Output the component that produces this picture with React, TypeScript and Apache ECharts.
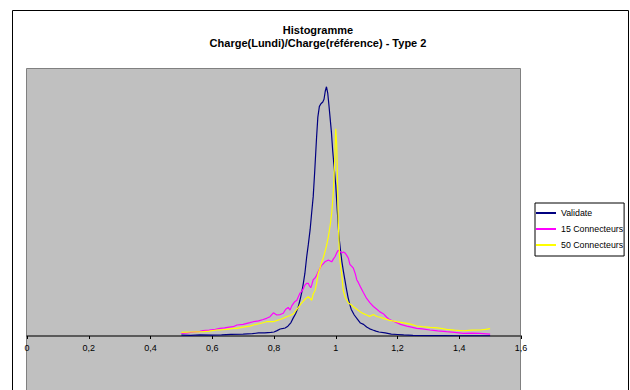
import React, { useEffect, useRef } from "react";
import * as echarts from "echarts";

const titleLines = ["Histogramme", "Charge(Lundi)/Charge(référence) - Type 2"];
const seriesNames = ["Validate", "15 Connecteurs", "50 Connecteurs"];
const seriesColors = ["#000080", "#FF00FF", "#FFFF00"];
const xTicks = [0, 0.2, 0.4, 0.6, 0.8, 1, 1.2, 1.4, 1.6];

const validateX = [0.5, 0.53, 0.56, 0.6, 0.63, 0.66, 0.7, 0.73, 0.75, 0.77, 0.79, 0.8, 0.81, 0.82, 0.83, 0.836, 0.845, 0.855, 0.862, 0.87, 0.878, 0.884, 0.89, 0.895, 0.9, 0.906, 0.911, 0.917, 0.922, 0.927, 0.932, 0.938, 0.942, 0.947, 0.952, 0.958, 0.962, 0.966, 0.97, 0.974, 0.978, 0.982, 0.986, 0.99, 0.995, 1.0, 1.005, 1.01, 1.015, 1.02, 1.025, 1.03, 1.035, 1.04, 1.045, 1.05, 1.06, 1.07, 1.08, 1.09, 1.1, 1.11, 1.12, 1.13, 1.14, 1.16, 1.18, 1.2, 1.22, 1.25, 1.3, 1.35, 1.4, 1.45, 1.5];
const validateY = [1, 0.8, 1.2, 1, 1.3, 1.8, 2.2, 2.6, 3.4, 3.4, 4, 4.5, 6, 7.8, 8.5, 9, 11, 15, 20, 25, 32, 40, 49, 59, 70, 89, 102, 119, 138, 156, 185, 223, 245, 257, 260, 262, 265, 274, 279, 272, 258, 243, 228, 208, 188, 169, 140, 113, 97, 83, 72, 62, 52, 43, 36, 30, 23.5, 19, 14.5, 13, 10, 8, 6.7, 5.5, 4.5, 3.4, 2.2, 1.7, 1.2, 0.6, 0.5, 0.4, 0.3, 0.3, 0.3];

const pinkX = [0.5, 0.52, 0.54, 0.56, 0.57, 0.59, 0.61, 0.625, 0.64, 0.655, 0.668, 0.68, 0.7, 0.722, 0.733, 0.75, 0.765, 0.776, 0.787, 0.798, 0.809, 0.82, 0.83, 0.838, 0.846, 0.852, 0.858, 0.866, 0.874, 0.884, 0.89, 0.895, 0.9, 0.906, 0.911, 0.915, 0.919, 0.923, 0.927, 0.933, 0.938, 0.943, 0.949, 0.954, 0.96, 0.965, 0.97, 0.976, 0.982, 0.987, 0.992, 0.998, 1.003, 1.008, 1.013, 1.019, 1.025, 1.03, 1.036, 1.041, 1.046, 1.052, 1.057, 1.063, 1.068, 1.073, 1.08, 1.089, 1.1, 1.111, 1.122, 1.133, 1.143, 1.154, 1.165, 1.176, 1.187, 1.197, 1.21, 1.23, 1.245, 1.262, 1.28, 1.305, 1.33, 1.359, 1.385, 1.413, 1.44, 1.467, 1.5];
const pinkY = [3, 3.5, 4.5, 5.2, 6, 6.5, 7.5, 8.6, 9, 10, 10.4, 12.3, 13, 14.9, 16, 17, 18.5, 19.8, 21.6, 26, 23.5, 24, 25.4, 30, 32, 29, 34, 38, 40, 48, 50, 53, 57, 59, 59, 56, 54, 58, 63, 65, 68, 72, 76, 79, 81, 83, 84, 85, 84, 83, 86, 89, 93, 96, 95, 93, 94, 93, 90, 87, 80, 78, 76, 70, 63, 60, 55, 49, 42, 37, 33, 30, 27, 25, 21, 18, 16.5, 15, 13, 11, 10, 8.6, 8, 6.7, 5.8, 4.8, 4, 3, 3.2, 3, 2.2];

const yellowX = [0.5, 0.53, 0.571, 0.59, 0.614, 0.625, 0.645, 0.668, 0.679, 0.7, 0.722, 0.733, 0.755, 0.776, 0.787, 0.798, 0.81, 0.82, 0.83, 0.841, 0.852, 0.862, 0.87, 0.879, 0.887, 0.895, 0.903, 0.911, 0.917, 0.922, 0.927, 0.933, 0.938, 0.943, 0.949, 0.955, 0.96, 0.965, 0.97, 0.976, 0.982, 0.987, 0.991, 0.994, 0.997, 1.0, 1.003, 1.005, 1.008, 1.012, 1.015, 1.019, 1.024, 1.03, 1.036, 1.041, 1.05, 1.057, 1.068, 1.079, 1.09, 1.1, 1.11, 1.122, 1.133, 1.143, 1.154, 1.175, 1.197, 1.215, 1.23, 1.245, 1.262, 1.28, 1.305, 1.33, 1.359, 1.385, 1.413, 1.44, 1.467, 1.485, 1.5];
const yellowY = [4.1, 4.5, 4.8, 5.5, 6.7, 6.7, 7.5, 8.6, 8.6, 10, 11, 12.3, 14, 16, 16, 16, 17.5, 18.5, 19.8, 21.6, 23, 24.6, 28, 32, 36, 39, 42, 44, 42, 40, 47, 51, 59, 70, 76, 83, 88, 94, 101, 111, 124, 138, 155, 175, 200, 232, 215, 186, 130, 91, 80, 70.5, 51.5, 43.7, 40, 37, 35, 32.8, 30, 27.2, 25, 23.5, 22, 24, 21.8, 21, 19.8, 17.5, 16, 15, 14.2, 13, 11.2, 10.5, 9.7, 9, 7.5, 6.5, 5.9, 6.5, 6.7, 7.5, 8.2];

const pairs = (xs: number[], ys: number[]) => xs.map((x, i) => [x, ys[i]]);

export default function App() {
  const ref = useRef<HTMLDivElement>(null);
  useEffect(() => {
    if (!ref.current) return;
    const chart = echarts.init(ref.current, undefined, { renderer: "svg" });
    const font = "'Liberation Sans', Arial, sans-serif";
    const datas = [pairs(validateX, validateY), pairs(pinkX, pinkY), pairs(yellowX, yellowY)];
    chart.setOption({
      animation: false,
      backgroundColor: "#ffffff",
      title: {
        text: titleLines.join("\n"),
        left: 318,
        top: 23,
        padding: 0,
        textAlign: "center",
        textStyle: { fontFamily: font, fontSize: 11, fontWeight: "bold", color: "#000", lineHeight: 13 },
      },
      graphic: [
        {
          type: "rect",
          shape: { x: 26.5, y: 68.5, width: 494, height: 330 },
          style: { fill: "#c0c0c0", stroke: "#808080", lineWidth: 1 },
          silent: true,
          z: -10,
        },
        {
          type: "rect",
          shape: { x: 12.5, y: 10.5, width: 616, height: 400 },
          style: { fill: "none", stroke: "#000", lineWidth: 1 },
          silent: true,
          z: 100,
        },
      ],
      legend: {
        orient: "vertical",
        left: 535,
        top: 203,
        padding: [4, 1, 5, 1],
        itemGap: 4,
        itemWidth: 20,
        itemHeight: 2,
        itemStyle: { borderWidth: 0 },
        icon: "rect",
        itemTextGap: 3,
        borderColor: "#000",
        borderWidth: 1,
        backgroundColor: "#fff",
        textStyle: { fontFamily: font, fontSize: 8.8, color: "#000", lineHeight: 12 },
        data: seriesNames,
      },
      grid: {
        left: 27,
        right: 109,
        top: 68,
        bottom: 54,
        show: false,
        containLabel: false,
        outerBoundsMode: "none",
      },
      xAxis: {
        type: "value",
        min: xTicks[0],
        max: xTicks[xTicks.length - 1],
        interval: 0.2,
        axisLine: { onZero: false, lineStyle: { color: "#5a5a5a", width: 2 } },
        axisTick: { show: true, length: 3, lineStyle: { color: "#000" } },
        splitLine: { show: false },
        axisLabel: {
          fontFamily: font,
          fontSize: 9,
          color: "#000",
          margin: 7,
          formatter: (v: number) => {
            const t = xTicks.find((k) => Math.abs(k - v) < 1e-6);
            return t === undefined ? "" : String(t).replace(".", ",");
          },
        },
      },
      yAxis: {
        type: "value",
        min: 0,
        max: 300,
        show: false,
        splitLine: { show: false },
      },
      series: seriesNames.map((name, i) => ({
        name,
        type: "line",
        data: datas[i],
        showSymbol: false,
        symbol: "none",
        color: seriesColors[i],
        lineStyle: { color: seriesColors[i], width: 1.2 },
        z: 2 + i,
      })),
    });
    return () => chart.dispose();
  }, []);
  return <div ref={ref} style={{ position: "absolute", left: 0, top: 0, width: 630, height: 390 }} />;
}
